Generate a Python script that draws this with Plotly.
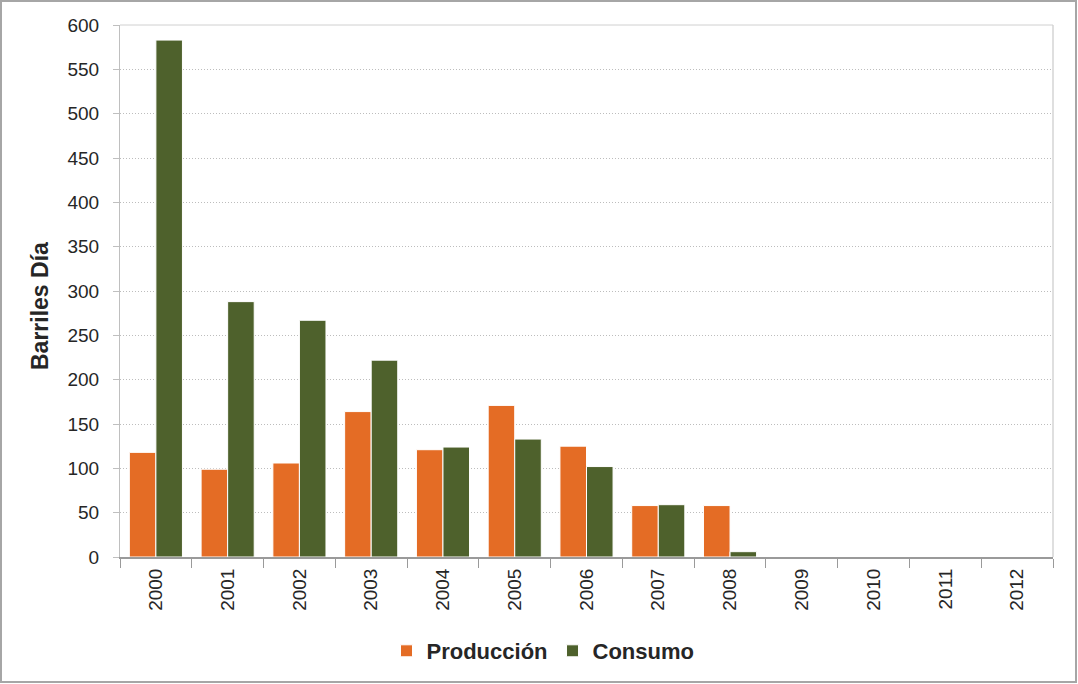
import plotly.graph_objects as go

years = [str(y) for y in range(2000, 2013)]
produccion = [118, 99, 106, 164, 121, 171, 125, 58, 58, 0, 0, 0, 0]
consumo = [583, 288, 267, 222, 124, 133, 102, 59, 6, 0, 0, 0, 0]
y_ticks = [0, 50, 100, 150, 200, 250, 300, 350, 400, 450, 500, 550, 600]

FONT = "Liberation Sans, Arial, sans-serif"

fig = go.Figure()
fig.add_trace(go.Bar(x=years, y=produccion, name="Producción",
                     marker=dict(color="#E46C25", line=dict(color="#ffffff", width=1))))
fig.add_trace(go.Bar(x=years, y=consumo, name="Consumo",
                     marker=dict(color="#4E612C", line=dict(color="#ffffff", width=1))))

L, R, T, B = 120, 25, 25, 127
W, H = 1078, 684
pw, ph = W - L - R, H - T - B

def px_to_paper_x(px):
    return (px - L) / pw

def px_to_paper_y(py):
    return (H - B - py) / ph

fig.update_layout(
    width=W, height=H,
    margin=dict(l=L, r=R, t=T, b=B),
    paper_bgcolor="white", plot_bgcolor="white",
    barmode="group", bargap=0.26, bargroupgap=0.0,
    font=dict(family=FONT, size=19, color="#262626"),
    showlegend=True,
    legend=dict(orientation="h", x=px_to_paper_x(543), xanchor="center", y=px_to_paper_y(651), yanchor="middle",
                font=dict(family=FONT, size=22, color="#262626", weight="bold"),
                itemwidth=30, traceorder="normal"),
    xaxis=dict(type="category", tickson="boundaries", ticks="outside", ticklen=9,
               tickcolor="#9a9a9a", showline=True, linecolor="#9a9a9a", linewidth=2,
               mirror=False, tickangle=-90, showgrid=False, ticklabelstandoff=2,
               tickfont=dict(family=FONT, size=19, color="#262626")),
    yaxis=dict(range=[0, 600], tickvals=y_ticks, ticks="outside", ticklen=6,
               tickcolor="#bfbfbf", showline=True, linecolor="#bfbfbf", linewidth=1,
               showgrid=True, gridcolor="#bdbdbd", griddash="1px,2px", gridwidth=1,
               ticklabelstandoff=10,
               zeroline=False, tickfont=dict(family=FONT, size=19, color="#262626")),
    annotations=[dict(text="<b>Barriles Día</b>", x=px_to_paper_x(40), y=px_to_paper_y(306),
                      xref="paper", yref="paper", textangle=-90, showarrow=False,
                      xanchor="center", yanchor="middle",
                      font=dict(family=FONT, size=23, color="#262626"))],
    shapes=[
        dict(type="rect", xref="paper", yref="paper",
             x0=px_to_paper_x(1), x1=px_to_paper_x(1076), y0=px_to_paper_y(682), y1=px_to_paper_y(1),
             line=dict(color="#a6a6a6", width=2), layer="below"),
        dict(type="line", xref="paper", yref="paper", x0=1, x1=1, y0=0, y1=1,
             line=dict(color="#bfbfbf", width=1)),
        dict(type="line", xref="paper", yref="paper", x0=0, x1=1, y0=1, y1=1,
             line=dict(color="#d0d0d0", width=1)),
    ],
)

fig.write_html("out.html", config={"displayModeBar": False},
               post_script="document.body.style.margin='0';document.body.style.padding='0';")
